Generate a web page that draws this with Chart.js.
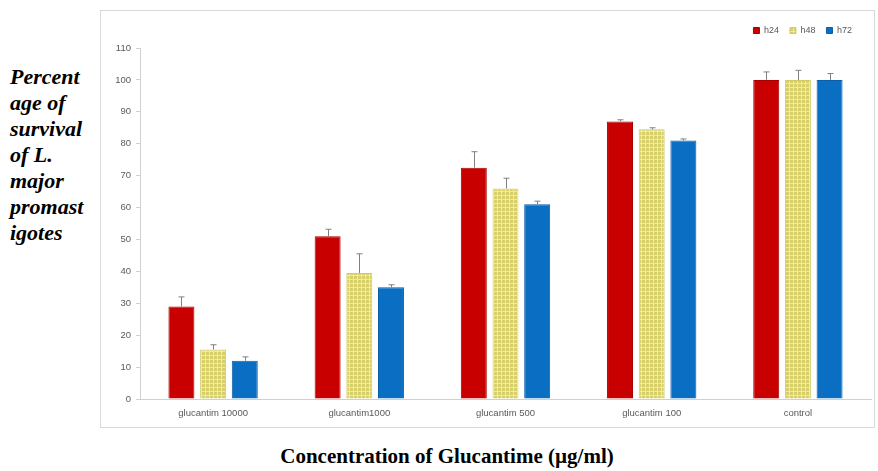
<!DOCTYPE html>
<html><head><meta charset="utf-8">
<script src="https://cdn.jsdelivr.net/npm/chart.js@4/dist/chart.umd.min.js"></script>
<style>
html,body{margin:0;padding:0;background:#fff;width:878px;height:471px;overflow:hidden;position:relative;}
#frame{position:absolute;left:100px;top:10px;width:775px;height:418px;border:1px solid #d9d9d9;box-sizing:border-box;}
#ytitle{position:absolute;left:10px;top:64px;font-family:"Liberation Serif",serif;font-weight:bold;font-style:italic;font-size:22px;line-height:26px;color:#000;}
#xtitle{position:absolute;left:0;width:894px;top:444px;text-align:center;font-family:"Liberation Serif",serif;font-weight:bold;font-size:21px;line-height:24px;color:#000;}
</style></head><body>
<div id="ytitle">Percent<br>age of<br>survival<br>of L.<br>major<br>promast<br>igotes</div>
<div id="frame"><canvas id="c" width="773" height="416"></canvas></div>
<div id="xtitle">Concentration of Glucantime (µg/ml)</div>
<script>
const categories = ["glucantim 10000","glucantim1000","glucantim 500","glucantim 100","control"];
const seriesNames = ["h24","h48","h72"];
const h24 = [29, 51, 72.5, 87, 100];
const h48 = [15.5, 39.5, 66, 84.5, 100];
const h72 = [12, 35, 61, 81, 100];
const err24 = [3, 2.2, 5, 0.5, 2.5];
const err48 = [1.5, 6, 3.2, 0.5, 3];
const err72 = [1.2, 0.8, 1, 0.5, 2];
const yTicks = [0,10,20,30,40,50,60,70,80,90,100,110];

function makePattern(){
  const p=document.createElement('canvas');p.width=4;p.height=4;
  const g=p.getContext('2d');
  g.fillStyle='#D6CF6A';g.fillRect(0,0,4,4);
  g.fillStyle='#EEEBAA';g.fillRect(0,0,4,1);g.fillRect(0,0,1,4);
  return g.createPattern(p,'repeat');
}
const ctx=document.getElementById('c').getContext('2d');
const yellowPat=makePattern();

const errorBars={
  id:'errorBars',
  afterDatasetsDraw(chart){
    const c=chart.ctx;const ys=chart.scales.y;
    const errs=[err24,err48,err72];
    c.save();c.strokeStyle='#808080';c.lineWidth=1;
    chart.data.datasets.forEach((ds,i)=>{
      const meta=chart.getDatasetMeta(i);
      meta.data.forEach((bar,j)=>{
        const v=ds.data[j];const e=errs[i][j];
        const x=Math.round(bar.x)+0.5;
        const yt=ys.getPixelForValue(v+e);const yb=ys.getPixelForValue(v);
        c.beginPath();c.moveTo(x,yb);c.lineTo(x,yt);
        c.moveTo(x-3,yt);c.lineTo(x+3,yt);c.stroke();
      });
    });
    c.restore();
  }
};
const legendShift={
  id:'legendShift',
  afterLayout(chart){
    const L=chart.legend; if(!L) return;
    const dx=-8, dy=-3;
    L.left+=dx;L.right+=dx;L.top+=dy;L.bottom+=dy;
  }
};

new Chart(ctx,{
  type:'bar',
  data:{labels:categories,datasets:[
    {label:seriesNames[0],data:h24,backgroundColor:'#C80000',borderColor:'#A80000',borderWidth:1},
    {label:seriesNames[1],data:h48,backgroundColor:yellowPat,borderColor:'#D2CB66',borderWidth:1},
    {label:seriesNames[2],data:h72,backgroundColor:'#0A6FC2',borderColor:'#0A5FA8',borderWidth:1}
  ]},
  options:{
    responsive:false,animation:false,
    categoryPercentage:0.65,barPercentage:0.82,
    layout:{padding:{left:0,right:3,top:7,bottom:0}},
    plugins:{
      legend:{display:true,position:'top',align:'end',
        labels:{boxWidth:6,boxHeight:6,padding:11,font:{family:'Liberation Sans',size:9},color:'#595959'}},
      tooltip:{enabled:false}
    },
    scales:{
      x:{grid:{display:false,drawTicks:false},border:{color:'#d0d0d0'},
        ticks:{font:{family:'Liberation Sans',size:9.5},color:'#595959',padding:9,maxRotation:0},
        afterFit(s){s.height=28;}},
      y:{min:0,max:110,
        afterBuildTicks(s){s.ticks=yTicks.map(v=>({value:v}));},
        grid:{drawOnChartArea:false,tickLength:4,color:'#d0d0d0'},border:{color:'#d0d0d0'},
        ticks:{font:{family:'Liberation Sans',size:9.5},color:'#595959',padding:5},
        afterFit(s){s.width=39;}}
    }
  },
  plugins:[errorBars,legendShift]
});
</script>
</body></html>
